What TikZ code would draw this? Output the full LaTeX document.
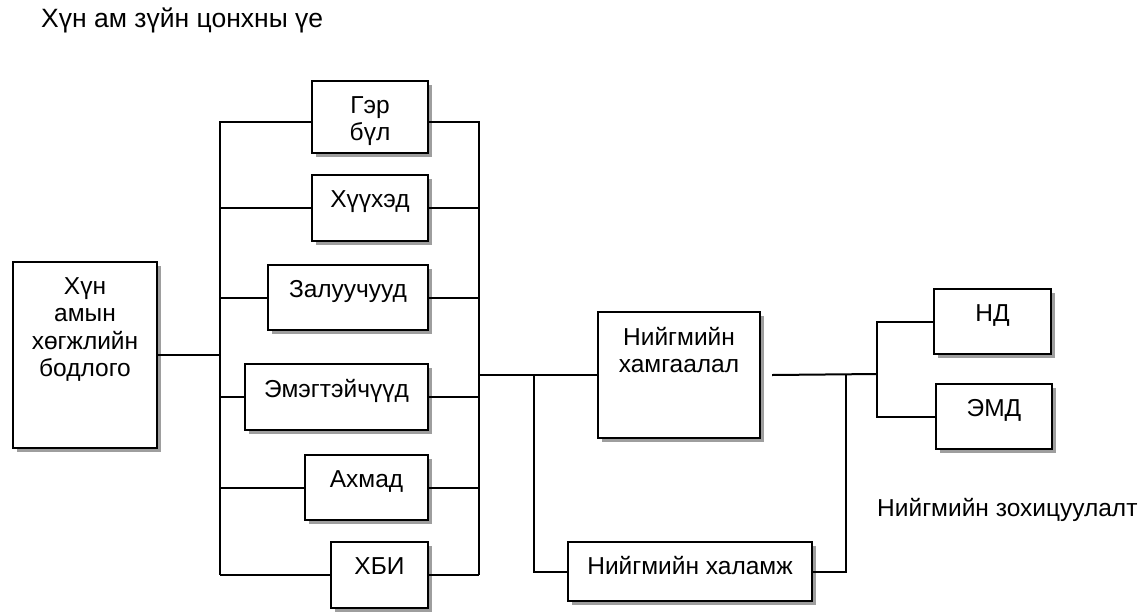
\documentclass[tikz,border=0pt]{standalone}
\usepackage{fontspec}
\setmainfont{Liberation Sans}
\usetikzlibrary{shadows}
\tikzstyle{blk} = [draw=black, line width=2pt, fill=white, anchor=north west, inner sep=0pt,
	drop shadow={shadow xshift=4pt, shadow yshift=-4pt, fill=black!38, opacity=1}]
\tikzstyle{txt} = [anchor=north, inner sep=0pt, yshift=-16pt, align=center]
\tikzstyle{wire} = [line width=2pt]

\begin{document}
\begin{tikzpicture}[x=1pt, y=-1pt, font=\fontsize{24.5}{27.5}\selectfont]%
			\useasboundingbox (0,0) rectangle (1148,614);
			\node [anchor=base west, inner sep=0pt, font=\fontsize{26.5}{30}\selectfont] (title) at (41,27) {Хүн ам зүйн цонхны үе};
			% left side
			\node [blk, minimum width=144pt, minimum height=186pt, label={[txt]north:Хүн\\амын\\хөгжлийн\\бодлого}] (hum) at (12,261) {};
			\node [blk, minimum width=116pt, minimum height=72pt, label={[txt]north:Гэр\\бүл}] (ger) at (311,80) {};
			\node [blk, minimum width=116pt, minimum height=66pt, label={[txt]north:Хүүхэд}] (huu) at (311,174) {};
			\node [blk, minimum width=160pt, minimum height=65pt, label={[txt]north:Залуучууд}] (zal) at (267,264) {};
			\node [blk, minimum width=183pt, minimum height=66pt, label={[txt]north:Эмэгтэйчүүд}] (eme) at (244,363) {};
			\node [blk, minimum width=123pt, minimum height=65pt, label={[txt]north:Ахмад}] (ahm) at (304,454) {};
			\node [blk, minimum width=97pt, minimum height=66pt, label={[txt]north:ХБИ}] (hbi) at (330,541) {};
			% right side
			\node [blk, minimum width=162pt, minimum height=126pt, label={[txt]north:Нийгмийн\\хамгаалал}] (ham) at (597,311) {};
			\node [blk, minimum width=244pt, minimum height=59pt, label={[txt, yshift=1pt]north:Нийгмийн халамж}] (hal) at (567,541) {};
			\node [blk, minimum width=117pt, minimum height=65pt, label={[txt]north:НД}] (nd) at (933,288) {};
			\node [blk, minimum width=116pt, minimum height=65pt, label={[txt]north:ЭМД}] (emd) at (935,383) {};
			\node [anchor=base west, inner sep=0pt] (zoh) at (877,516) {Нийгмийн зохицуулалт};
			\coordinate (lb) at (220,121);
			\coordinate (rb) at (479,121);
			\coordinate (ja) at (534,374);
			\coordinate (jb) at (846,374);
			\coordinate (jc) at (877,374);
			\draw [wire] (lb) -- (lb |- hbi.west) (rb) -- (rb |- hbi.west);
			\draw [wire] (hum.east) -- (hum.east -| lb);
			\foreach \n/\s in {ger/-5,huu/0,zal/0,eme/0,ahm/0,hbi/0}
				\draw [wire] ([yshift=\s pt]\n.west) -- ([yshift=\s pt]\n.west -| lb) ([yshift=\s pt]\n.east) -- ([yshift=\s pt]\n.east -| rb);
			\draw [wire] (ham.west -| rb) -- (ham.west);
			\draw [wire] (ja) |- (hal.west);
			\draw [wire] ([xshift=11pt]ham.east) -- (jc);
			\draw [wire] (hal.east) -| (jb);
			\draw [wire] (nd.west) -| (jc) |- (emd.west);
		\end{tikzpicture}
\end{document}
